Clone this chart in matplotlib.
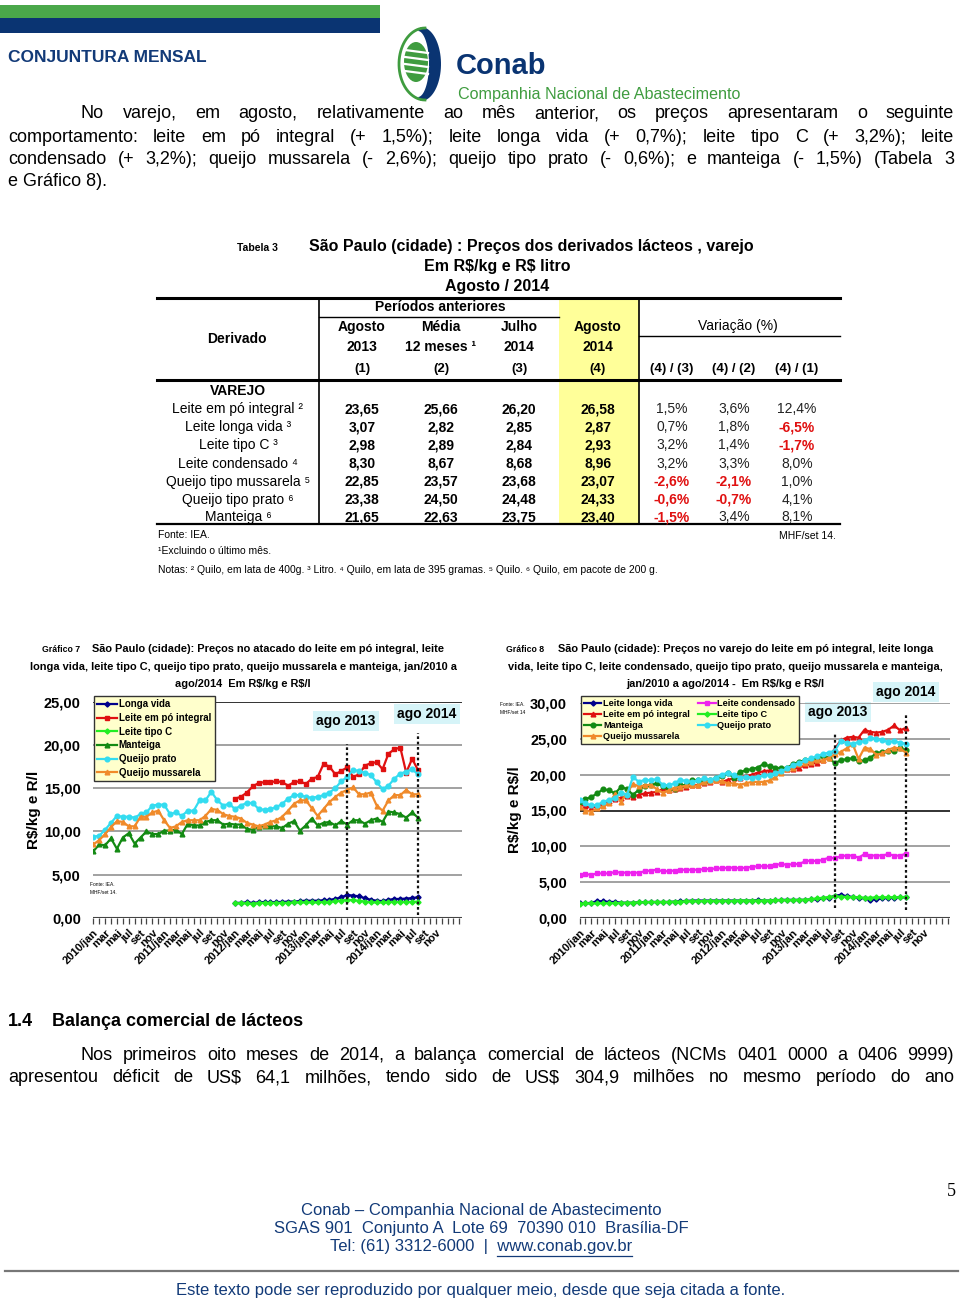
import numpy as np
import matplotlib
matplotlib.use('Agg')
import matplotlib.pyplot as plt
from matplotlib.patches import Rectangle, Polygon, Ellipse

nan = np.nan

# ====================================================================
# DADOS
# ====================================================================
rotulos_x = ['2010/jan', 'mar', 'mai', 'jul', 'set', 'nov',
             '2011/jan', 'mar', 'mai', 'jul', 'set', 'nov',
             '2012/jan', 'mar', 'mai', 'jul', 'set', 'nov',
             '2013/jan', 'mar', 'mai', 'jul', 'set', 'nov',
             '2014/jan', 'mar', 'mai', 'jul', 'set', 'nov']
marcos = {'ago 2013': 43, 'ago 2014': 55}

# Tabela 3
derivados = ['Leite em pó integral', 'Leite longa vida', 'Leite tipo C', 'Leite condensado',
             'Queijo tipo mussarela', 'Queijo tipo prato', 'Manteiga']
notas = ['²', '³', '³', '⁴', '⁵', '⁶', '⁶']
ago13 = [23.65, 3.07, 2.98, 8.30, 22.85, 23.38, 21.65]
media12 = [25.66, 2.82, 2.89, 8.67, 23.57, 24.50, 22.63]
jul14 = [26.20, 2.85, 2.84, 8.68, 23.68, 24.48, 23.75]
ago14 = [26.58, 2.87, 2.93, 8.96, 23.07, 24.33, 23.40]
var_43 = [1.5, 0.7, 3.2, 3.2, -2.6, -0.6, -1.5]
var_42 = [3.6, 1.8, 1.4, 3.3, -2.1, -0.7, 3.4]
var_41 = [12.4, -6.5, -1.7, 8.0, 1.0, 4.1, 8.1]

# Grafico 7 - atacado (jan/2010 a ago/2014)
g7_longa = [nan] * 24 + [1.75, 1.75, 1.8, 1.75, 1.8, 1.85, 1.8, 1.85,
                         1.85, 1.9, 1.9, 1.95, 2.0, 2.0, 2.0, 2.05,
                         2.1, 2.2, 2.4, 2.65, 2.6, 2.5, 2.3, 2.1,
                         2.0, 1.95, 2.1, 2.2, 2.2, 2.25, 2.3, 2.4]
g7_po = [nan] * 24 + [13.8, 14.0, 14.5, 15.2, 15.6, 15.7, 15.7, 15.8,
                      15.7, 15.3, 15.7, 15.8, 15.5, 16.1, 16.3, 17.8,
                      17.5, 16.6, 17.0, 17.4, 16.3, 16.6, 17.6, 17.9,
                      18.0, 17.2, 19.0, 19.5, 19.7, 16.8, 18.4, 17.1]
g7_tipoc = [nan] * 24 + [1.7, 1.7, 1.7, 1.65, 1.75, 1.75, 1.75, 1.75,
                         1.75, 1.75, 1.8, 1.8, 1.8, 1.8, 1.8, 1.85,
                         1.85, 1.95, 2.0, 2.1, 2.05, 2.0, 1.9, 1.8,
                         1.8, 1.8, 1.85, 1.85, 1.85, 1.85, 1.85, 1.9]
g7_manteiga = [7.7, 8.5, 8.4, 9.2, 8.0, 9.3, 9.8, 8.6, 9.3, 10.0, 9.7, 9.7,
               10.1, 10.1, 10.2, 9.7, 10.9, 10.7, 10.7, 11.1, 11.3, 11.3, 10.8, 10.9,
               10.8, 10.8, 10.3, 10.2, 10.5, 10.6, 10.6, 10.6, 10.4, 10.9, 11.2, 10.1,
               10.7, 11.5, 10.7, 11.0, 11.1, 10.7, 11.2, 10.8, 11.3, 11.3, 10.9, 11.3,
               11.5, 11.1, 12.3, 12.2, 12.0, 11.6, 12.2, 11.6]
g7_prato = [9.4, 9.5, 10.2, 11.0, 11.8, 11.7, 11.7, 11.6, 12.0, 12.2, 13.0, 13.1,
            13.1, 12.0, 12.2, 11.8, 12.4, 12.4, 13.6, 13.6, 14.6, 13.6, 13.0, 13.2,
            12.6, 13.0, 13.3, 13.3, 12.6, 12.5, 12.6, 12.8, 13.2, 13.8, 14.2, 14.2,
            14.0, 13.9, 14.0, 14.2, 14.5, 15.0, 15.8, 16.3, 17.1, 17.0, 16.8, 16.5,
            15.7, 14.9, 15.3, 16.1, 16.7, 16.9, 17.2, 16.6]
g7_mussarela = [8.5, 9.0, 9.7, 10.5, 11.2, 11.1, 10.6, 10.6, 11.7, 11.7, 12.2, 12.4,
                11.3, 10.4, 10.6, 11.1, 11.3, 11.3, 11.3, 11.8, 12.6, 12.5, 12.0, 11.8,
                11.7, 11.5, 11.0, 10.8, 10.6, 10.8, 11.1, 11.3, 11.7, 12.4, 13.2, 13.6,
                13.6, 12.7, 11.8, 12.6, 13.4, 14.0, 14.5, 14.8, 15.1, 14.3, 14.3, 14.5,
                13.0, 12.4, 13.6, 14.2, 14.2, 14.8, 14.3, 14.3]

# Grafico 8 - varejo (jan/2010 a ago/2014)
g8_longa = [2.0, 2.0, 2.1, 2.3, 2.3, 2.2, 2.2, 2.1, 2.1, 2.1, 2.15, 2.2,
            2.2, 2.2, 2.2, 2.2, 2.25, 2.3, 2.35, 2.4, 2.4, 2.4, 2.4, 2.4,
            2.4, 2.4, 2.4, 2.4, 2.4, 2.4, 2.45, 2.4, 2.4, 2.45, 2.5, 2.5,
            2.5, 2.5, 2.5, 2.55, 2.6, 2.7, 2.8, 3.07, 3.2, 3.0, 2.9, 2.8,
            2.7, 2.5, 2.6, 2.7, 2.8, 2.8, 2.85, 2.87]
g8_po = [16.0, 15.6, 15.4, 15.6, 16.0, 16.3, 16.6, 16.8, 17.0, 16.9, 17.2, 17.4,
         17.5, 17.6, 18.0, 17.8, 18.0, 18.2, 18.3, 18.5, 18.6, 18.8, 19.0, 19.2,
         19.0, 19.3, 19.5, 19.6, 19.8, 20.0, 20.3, 20.5, 20.6, 20.4, 20.6, 20.8,
         20.8, 21.0, 21.3, 21.5, 21.7, 22.0, 22.5, 23.65, 24.8, 25.2, 25.3, 25.2,
         26.3, 26.0, 25.9, 26.0, 26.3, 26.9, 26.2, 26.58]
g8_manteiga = [16.2, 16.6, 16.9, 17.4, 18.0, 17.8, 17.4, 18.3, 18.0, 17.2, 17.9, 18.4,
               18.5, 18.8, 18.4, 18.0, 18.0, 18.6, 18.5, 19.2, 19.2, 19.0, 19.2, 19.5,
               19.8, 20.2, 19.6, 20.4, 20.6, 20.8, 21.0, 21.5, 21.2, 21.0, 20.9, 21.0,
               21.5, 21.8, 22.0, 22.2, 22.4, 22.6, 22.3, 21.65, 22.0, 22.2, 22.3, 21.9,
               22.0, 22.4, 23.0, 23.2, 23.3, 23.3, 23.75, 23.4]
g8_mussarela = [15.5, 15.0, 14.8, 15.3, 15.6, 16.0, 17.3, 16.2, 17.5, 18.7, 18.4, 18.5,
                18.6, 18.0, 17.5, 17.8, 18.2, 18.3, 18.5, 18.5, 18.5, 19.0, 19.1, 19.2,
                19.1, 18.8, 18.8, 18.6, 18.8, 19.0, 19.0, 19.0, 19.2, 19.7, 20.3, 20.8,
                21.0, 21.5, 21.7, 21.8, 22.0, 22.0, 22.4, 22.85, 23.2, 23.7, 24.3, 22.2,
                23.8, 23.6, 22.8, 23.0, 23.5, 23.8, 23.68, 23.07]
g8_condensado = [6.0, 6.1, 6.0, 6.2, 6.2, 6.2, 6.4, 6.3, 6.3, 6.3, 6.3, 6.5,
                 6.6, 6.7, 6.5, 6.5, 6.6, 6.7, 6.7, 6.7, 6.7, 6.8, 6.8, 6.9,
                 6.9, 7.0, 7.0, 6.9, 7.0, 7.1, 7.2, 7.2, 7.2, 7.4, 7.5, 7.4,
                 7.5, 7.5, 7.9, 8.0, 7.9, 8.1, 8.4, 8.3, 8.6, 8.7, 8.7, 8.4,
                 8.9, 8.7, 8.7, 8.7, 8.9, 8.7, 8.68, 8.96]
g8_tipoc = [1.95, 2.0, 2.0, 2.0, 2.05, 2.0, 2.05, 2.05, 2.1, 2.1, 2.15, 2.15,
            2.2, 2.2, 2.2, 2.2, 2.25, 2.25, 2.3, 2.3, 2.3, 2.35, 2.35, 2.35,
            2.35, 2.35, 2.35, 2.4, 2.4, 2.4, 2.4, 2.4, 2.4, 2.45, 2.45, 2.45,
            2.45, 2.5, 2.5, 2.6, 2.7, 2.8, 2.9, 2.98, 2.95, 2.9, 2.85, 2.85,
            2.8, 2.8, 2.85, 2.85, 2.85, 2.85, 2.84, 2.93]
g8_prato = [16.5, 16.0, 15.7, 15.8, 16.2, 16.5, 16.8, 17.5, 17.2, 19.7, 19.0, 19.3,
            19.2, 19.4, 18.6, 18.5, 18.8, 19.3, 19.1, 19.0, 19.2, 19.5, 19.3, 19.6,
            20.0, 20.3, 19.9, 19.6, 19.7, 19.6, 19.7, 19.9, 20.0, 20.2, 20.5, 20.9,
            21.3, 21.6, 22.0, 22.3, 22.6, 22.9, 23.1, 23.38, 24.7, 24.5, 24.3, 24.6,
            24.7, 25.2, 25.0, 24.8, 24.6, 24.7, 24.48, 24.33]

# ====================================================================
# ESTILO
# ====================================================================
W, H = 960, 1300
NARROW = ['Liberation Sans Narrow', 'Liberation Sans', 'DejaVu Sans']
SANS = ['Liberation Sans', 'DejaVu Sans']
NAVY = '#123a78'
VERDE_LOGO = '#3f9c3f'
AZUL = '#00008b'
VERMELHO = '#e01010'
VERDE_CLARO = '#22ee22'
VERDE_ESC = '#138a13'
CIANO = '#33dcf0'
LARANJA = '#f08a2a'
MAGENTA = '#ee22ee'

plt.rcParams['font.family'] = NARROW

fig = plt.figure(figsize=(W / 100, H / 100), dpi=100)
page = fig.add_axes([0, 0, 1, 1])
page.set_xlim(0, W)
page.set_ylim(H, 0)
page.axis('off')
rend = fig.canvas.get_renderer()


def largura(t):
    return t.get_window_extent(rend).width


def justificar(texto, x0, x1, y, size, **kw):
    palavras = texto.split()
    ts = [page.text(0, y, p, fontsize=size, va='center', ha='left', **kw) for p in palavras]
    ws = [largura(t) for t in ts]
    gap = (x1 - x0 - sum(ws)) / (len(palavras) - 1)
    x = x0
    for t, w in zip(ts, ws):
        t.set_x(x)
        x += w + gap


def eixo_px(l, t, r, b):
    return fig.add_axes([l / W, 1 - b / H, (r - l) / W, (b - t) / H])


# ====================================================================
# CABECALHO
# ====================================================================
page.add_patch(Rectangle((0, 5), 380, 13, fc='#4aa84a', ec='none'))
page.add_patch(Rectangle((0, 18), 380, 15, fc='#0a3472', ec='none'))
page.text(8, 57, 'CONJUNTURA MENSAL', fontsize=12.5, fontweight='bold', color=NAVY,
          family=SANS, va='center')

# logo (aproximado)
tt = np.linspace(-np.pi / 2, np.pi / 2, 40)
ext = np.c_[421 + 20 * np.cos(tt), 64 - 37 * np.sin(tt)]
inn = np.c_[418 + 11 * np.cos(tt[::-1]), 64 - 33 * np.sin(tt[::-1])]
page.add_patch(Polygon(np.r_[ext, inn], closed=True, fc='#0a3472', ec='none'))
page.add_patch(Ellipse((416, 62), 24, 40, fc=VERDE_LOGO, ec='none'))
for yy in [50, 57, 64, 71]:
    page.plot([405, 428], [yy, yy + 3], color='white', lw=1.6)
tl = np.linspace(np.pi / 2, 3 * np.pi / 2, 40)
page.plot(425 + 26 * np.cos(tl), 64 - 36 * np.sin(tl), color=VERDE_LOGO, lw=2)
page.text(456, 66, 'Conab', fontsize=21, fontweight='bold', color='#0a3472',
          family=SANS, va='center')
page.text(458, 95, 'Companhia Nacional de Abastecimento', fontsize=11.6, color=VERDE_LOGO,
          family=SANS, va='center')

# ====================================================================
# TEXTO 1
# ====================================================================
CORPO = 13
justificar('No varejo, em agosto, relativamente ao mês anterior, os preços apresentaram o seguinte',
           81, 954, 114, CORPO)
justificar('comportamento: leite em pó integral (+ 1,5%); leite longa vida (+ 0,7%); leite tipo C (+ 3,2%); leite',
           8, 954, 137, CORPO)
justificar('condensado (+ 3,2%); queijo mussarela (- 2,6%); queijo tipo prato (- 0,6%); e manteiga (- 1,5%) (Tabela 3',
           8, 954, 159, CORPO)
page.text(8, 182, 'e Gráfico 8).', fontsize=CORPO, va='center')

# ====================================================================
# TABELA 3
# ====================================================================
page.text(237, 248, 'Tabela 3', fontsize=7.5, fontweight='bold', va='center')
page.text(309, 246, 'São Paulo (cidade) : Preços dos derivados lácteos , varejo', fontsize=11.5,
          fontweight='bold', va='center')
page.text(497, 266, r'Em R\$/kg e R\$ litro', fontsize=11.5, fontweight='bold', va='center',
          ha='center')
page.text(497, 286, 'Agosto / 2014', fontsize=11.5, fontweight='bold', va='center', ha='center')

page.add_patch(Rectangle((559, 298), 80, 226, fc='#ffff99', ec='none', zorder=0))
page.plot([157, 840], [298, 298], color='k', lw=2.2)
page.plot([157, 840], [380, 380], color='k', lw=2.2)
page.plot([157, 840], [524, 524], color='k', lw=1.6)
page.plot([319, 559], [317, 317], color='k', lw=1)
page.plot([639, 840], [336, 336], color='k', lw=1)
page.plot([319, 319], [298, 524], color='k', lw=1.2)
page.plot([639, 639], [298, 524], color='k', lw=1.2)

hb = dict(fontsize=10, fontweight='bold', va='center', ha='center')
page.text(237, 339, 'Derivado', **hb)
page.text(440, 307, 'Períodos anteriores', **hb)
page.text(738, 326, 'Variação (%)', **dict(hb, fontweight='normal'))
cols = [362, 441, 519, 598, 672, 734, 797]
cab1 = ['Agosto', 'Média', 'Julho', 'Agosto']
cab2 = ['2013', '12 meses ¹', '2014', '2014']
cab3 = ['(1)', '(2)', '(3)', '(4)', '(4) / (3)', '(4) / (2)', '(4) / (1)']
for i in range(4):
    page.text(cols[i], 327, cab1[i], **hb)
    page.text(cols[i], 347, cab2[i], **hb)
for i, c in enumerate(cab3):
    page.text(cols[i], 369, c, **dict(hb, fontsize=9.5))

page.text(238, 391, 'VAREJO', fontsize=10, fontweight='bold', va='center', ha='center')
linhas_y = [409, 427, 445, 464, 482, 500, 517]
for k, y in enumerate(linhas_y):
    page.text(238, y, derivados[k] + ' ' + notas[k], fontsize=10, va='center', ha='center')
    for c, serie in zip(cols[:4], [ago13, media12, jul14, ago14]):
        page.text(c, y, f'{serie[k]:.2f}'.replace('.', ','), fontsize=10, fontweight='bold',
                  va='center', ha='center')
    for c, serie in zip(cols[4:], [var_43, var_42, var_41]):
        v = serie[k]
        neg = v < 0
        page.text(c, y, f'{v:.1f}%'.replace('.', ','), fontsize=10,
                  fontweight='bold' if neg else 'normal', color=VERMELHO if neg else '#222',
                  va='center', ha='center')

page.text(158, 535, 'Fonte: IEA.', fontsize=7.5, va='center', family=SANS)
page.text(836, 536, 'MHF/set 14.', fontsize=7.5, va='center', ha='right', family=SANS)
page.text(158, 551, '¹Excluindo o último mês.', fontsize=7.5, va='center', family=SANS)
page.text(158, 570, 'Notas: ² Quilo, em lata de 400g. ³ Litro. ⁴ Quilo, em lata de 395 gramas. '
          '⁵ Quilo. ⁶ Quilo, em pacote de 200 g.', fontsize=7.5, va='center', family=SANS)


# ====================================================================
# GRAFICOS
# ====================================================================
def preparar_eixo(ax, ymax, linha_escura):
    n = 63
    ax.set_xlim(0, 62.4)
    ax.set_ylim(0, ymax)
    ax.set_facecolor('none')
    for s in ax.spines.values():
        s.set_visible(False)
    for v in range(5, ymax + 1, 5):
        ax.axhline(v, color='#222' if v == linha_escura else '#9a9a9a', lw=1.3, zorder=0)
    ax.axhline(0, color='#444', lw=1.5, zorder=0)
    ax.set_yticks(range(0, ymax + 1, 5))
    ax.set_yticklabels([f'{v},00' for v in range(0, ymax + 1, 5)], fontsize=10.5,
                       fontweight='bold')
    ax.tick_params(axis='y', length=0, pad=9)
    ax.set_xticks(range(n))
    rot = [rotulos_x[i // 2] if (i % 2 == 0 and i // 2 < len(rotulos_x)) else '' for i in range(n)]
    ax.set_xticklabels(rot, fontsize=8, fontweight='bold', rotation=45, ha='right',
                       rotation_mode='anchor')
    ax.tick_params(axis='x', length=4, width=0.9, color='#444', pad=3)


def linha(ax, y, cor, marcador, rotulo, ms=3.4):
    ax.plot(np.arange(len(y)), y, color=cor, marker=marcador, ms=ms, mfc=cor, mec=cor,
            lw=1.6, label=rotulo)


def caixa_ago(x, y, texto):
    page.text(x, y, texto, fontsize=10, fontweight='bold', va='center', ha='center',
              bbox=dict(fc='#d6f4f8', ec='none', pad=2.5))


# ---------------- Grafico 7 ----------------
page.text(42, 649, 'Gráfico 7', fontsize=6.3, fontweight='bold', va='center')
page.text(92, 649, 'São Paulo (cidade): Preços no atacado do leite em pó integral, leite',
          fontsize=7.9, fontweight='bold', va='center')
page.text(244, 667, 'longa vida, leite tipo C, queijo tipo prato, queijo mussarela e manteiga, jan/2010 a',
          fontsize=7.9, fontweight='bold', va='center', ha='center')
page.text(243, 684, r'ago/2014  Em R\$/kg e R\$/l', fontsize=7.9, fontweight='bold',
          va='center', ha='center')

ax7 = eixo_px(93.3, 701.7, 461.7, 918)
preparar_eixo(ax7, 25, 25)
linha(ax7, g7_longa, AZUL, 'D', 'Longa vida', 2.6)
linha(ax7, g7_po, VERMELHO, 's', 'Leite em pó integral')
linha(ax7, g7_tipoc, VERDE_CLARO, 'D', 'Leite tipo C', 2.6)
linha(ax7, g7_manteiga, VERDE_ESC, '^', 'Manteiga')
linha(ax7, g7_prato, CIANO, 'o', 'Queijo prato')
linha(ax7, g7_mussarela, LARANJA, '^', 'Queijo mussarela')
ax7.plot([marcos['ago 2013']] * 2, [0.9, 20.1], color='#111', lw=1.6, ls=(0, (1.2, 1.2)))
ax7.plot([marcos['ago 2014']] * 2, [0.3, 21.4], color='#111', lw=1.6, ls=(0, (1.2, 1.2)))
leg7 = ax7.legend(loc='upper left', bbox_to_anchor=(0.002, 1.027), fancybox=False,
                  edgecolor='#333', facecolor='#ffffcc', framealpha=1,
                  prop={'weight': 'bold', 'size': 7.0}, handlelength=2.0, handletextpad=0.2,
                  labelspacing=0.38, borderpad=0.35, borderaxespad=0)
leg7.get_frame().set_linewidth(1)
page.text(34, 810, r'R\$/kg e R/l', fontsize=11, fontweight='bold', rotation=90,
          va='center', ha='center')
page.text(90, 884, 'Fonte: IEA.', fontsize=3.5, va='center')
page.text(90, 892, 'MHF/set 14.', fontsize=3.5, va='center')
caixa_ago(346, 721, 'ago 2013')
caixa_ago(427, 714, 'ago 2014')

# ---------------- Grafico 8 ----------------
page.text(506, 649, 'Gráfico 8', fontsize=6.3, fontweight='bold', va='center')
page.text(558, 649, 'São Paulo (cidade): Preços no varejo do leite em pó integral, leite longa',
          fontsize=7.9, fontweight='bold', va='center')
page.text(725, 667, 'vida, leite tipo C, leite condensado, queijo tipo prato, queijo mussarela e manteiga,',
          fontsize=7.9, fontweight='bold', va='center', ha='center')
page.text(725, 684, r'jan/2010 a ago/2014 -  Em R\$/kg e R\$/l', fontsize=7.9, fontweight='bold',
          va='center', ha='center')

ax8 = eixo_px(579.5, 703.3, 950, 917.7)
preparar_eixo(ax8, 30, 15)
linha(ax8, g8_longa, AZUL, 'D', 'Leite longa vida', 2.6)
linha(ax8, g8_po, VERMELHO, '^', 'Leite em pó integral')
linha(ax8, g8_manteiga, VERDE_ESC, 'o', 'Manteiga')
linha(ax8, g8_mussarela, LARANJA, '^', 'Queijo mussarela')
linha(ax8, g8_condensado, MAGENTA, 's', 'Leite condensado')
linha(ax8, g8_tipoc, VERDE_CLARO, 'D', 'Leite tipo C', 2.6)
linha(ax8, g8_prato, CIANO, 'o', 'Queijo prato')
ax8.plot([marcos['ago 2013']] * 2, [1.35, 26.0], color='#111', lw=1.6, ls=(0, (1.2, 1.2)))
ax8.plot([marcos['ago 2014']] * 2, [1.1, 28.6], color='#111', lw=1.6, ls=(0, (1.2, 1.2)))
leg8 = ax8.legend(loc='upper left', bbox_to_anchor=(0.003, 1.034), ncol=2, fancybox=False,
                  edgecolor='#333', facecolor='#ffffcc', framealpha=1,
                  prop={'weight': 'bold', 'size': 6.6}, handlelength=1.9, handletextpad=0.2,
                  labelspacing=0.2, borderpad=0.35, borderaxespad=0, columnspacing=0.9)
leg8.get_frame().set_linewidth(1)
page.text(515, 810, r'R\$/kg e R\$/l', fontsize=11, fontweight='bold', rotation=90,
          va='center', ha='center')
page.text(500, 704, 'Fonte: IEA.', fontsize=3.5, va='center')
page.text(500, 713, 'MHF/set 14', fontsize=3.5, va='center')
caixa_ago(838, 712, 'ago 2013')
caixa_ago(906, 692, 'ago 2014')

# ====================================================================
# SECAO 1.4 E RODAPE
# ====================================================================
page.text(8, 1022, '1.4', fontsize=13, fontweight='bold', va='center')
page.text(52, 1022, 'Balança comercial de lácteos', fontsize=13, fontweight='bold', va='center')
justificar('Nos primeiros oito meses de 2014, a balança comercial de lácteos (NCMs 0401 0000 a 0406 9999)',
           81, 954, 1055, CORPO)
justificar('apresentou déficit de US$ 64,1 milhões, tendo sido de US$ 304,9 milhões no mesmo período do ano',
           8, 954, 1078, CORPO)

page.text(951, 1192, '5', fontsize=13, family=['Liberation Serif', 'DejaVu Serif'],
          va='center', ha='center')
rod = dict(fontsize=12, color=NAVY, va='center', ha='center')
page.text(481, 1210, 'Conab – Companhia Nacional de Abastecimento', **rod)
page.text(481, 1228, 'SGAS 901  Conjunto A  Lote 69  70390 010  Brasília-DF', **rod)
tel = page.text(481, 1247, 'Tel: (61) 3312-6000  |  www.conab.gov.br', **rod)
site = page.text(0, 0, 'www.conab.gov.br', fontsize=12)
w_site = largura(site)
site.remove()
dir_tel = 481 + largura(tel) / 2
page.plot([dir_tel - w_site, dir_tel], [1256, 1256], color=NAVY, lw=0.9)
page.plot([5, 958], [1271, 1271], color='#777777', lw=1.6)
page.text(481, 1290, 'Este texto pode ser reproduzido por qualquer meio, desde que seja citada a fonte.',
          **rod)

fig.savefig('out.png', dpi=100)
